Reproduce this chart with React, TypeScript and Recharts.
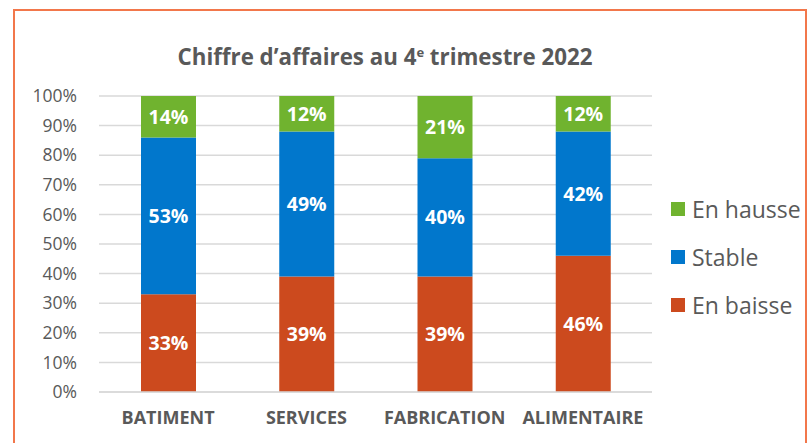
import { BarChart, Bar, XAxis, YAxis, CartesianGrid, Legend, LabelList } from 'recharts';

const categories = ['BATIMENT', 'SERVICES', 'FABRICATION', 'ALIMENTAIRE'];
const enBaisse = [33, 39, 39, 46];
const stable = [53, 49, 40, 42];
const enHausse = [14, 12, 21, 12];
const yTicks = [0, 10, 20, 30, 40, 50, 60, 70, 80, 90, 100];

const data = categories.map((name, i) => ({
  name,
  baisse: enBaisse[i],
  stable: stable[i],
  hausse: enHausse[i],
}));

const FONT = '"Open Sans", sans-serif';
const GREY = '#595959';

const legendItems = [
  { label: 'En hausse', color: '#70B32F' },
  { label: 'Stable', color: '#0177CC' },
  { label: 'En baisse', color: '#CC4A1E' },
];

const renderLegend = () => (
  <div style={{ fontFamily: FONT }}>
    {legendItems.map((it) => (
      <div key={it.label} style={{ display: 'flex', alignItems: 'center', height: 48 }}>
        <span style={{ width: 14, height: 14, background: it.color, marginRight: 7 }} />
        <span style={{ fontSize: 23, color: GREY }}>{it.label}</span>
      </div>
    ))}
  </div>
);

const pct = (v: any) => `${v}%`;

export default function App() {
  return (
    <div style={{ position: 'absolute', left: 0, top: 0, width: 812, height: 443, overflow: 'hidden', background: '#fff' }}>
      <div
        style={{
          position: 'absolute',
          left: 13,
          top: 9,
          width: 790,
          height: 460,
          border: '2px solid #F2774B',
        }}
      />
      <div
        style={{
          position: 'absolute',
          left: 0,
          width: 770,
          top: 41,
          textAlign: 'center',
          fontFamily: FONT,
          fontWeight: 700,
          fontSize: 22.3,
          color: GREY,
        }}
      >
        Chiffre d’affaires au 4<sup style={{ fontSize: 13 }}>e</sup> trimestre 2022
      </div>
      <div style={{ position: 'absolute', left: 0, top: 0 }}>
        <BarChart
          width={812}
          height={443}
          data={data}
          margin={{ top: 96, right: 160, bottom: 21, left: 0 }}
          barCategoryGap="20%"
          barSize={55}
        >
          <CartesianGrid vertical={false} stroke="#D9D9D9" strokeWidth={1.5} />
          <XAxis
            dataKey="name"
            height={30}
            axisLine={{ stroke: '#D9D9D9', strokeWidth: 1.5 }}
            tickLine={false}
            tick={{ fill: GREY, fontSize: 18, fontWeight: 700, fontFamily: FONT }}
            tickMargin={13}
            interval={0}
          />
          <YAxis
            width={99}
            domain={[0, 100]}
            ticks={yTicks}
            tickFormatter={pct}
            axisLine={false}
            tickLine={false}
            tick={{ fill: GREY, fontSize: 17.5, fontFamily: FONT }}
            tickMargin={16}
          />
          <Legend
            layout="vertical"
            align="center"
            verticalAlign="middle"
            content={renderLegend}
            wrapperStyle={{ left: 671, top: 185, width: 140 }}
          />
          <Bar dataKey="baisse" stackId="a" fill="#CC4A1E" isAnimationActive={false}>
            <LabelList dataKey="baisse" position="center" formatter={pct} fill="#fff" fontSize={19.5} fontWeight={700} fontFamily={FONT} />
          </Bar>
          <Bar dataKey="stable" stackId="a" fill="#0177CC" isAnimationActive={false}>
            <LabelList dataKey="stable" position="center" formatter={pct} fill="#fff" fontSize={19.5} fontWeight={700} fontFamily={FONT} />
          </Bar>
          <Bar dataKey="hausse" stackId="a" fill="#70B32F" isAnimationActive={false}>
            <LabelList dataKey="hausse" position="center" formatter={pct} fill="#fff" fontSize={19.5} fontWeight={700} fontFamily={FONT} />
          </Bar>
        </BarChart>
      </div>
    </div>
  );
}
